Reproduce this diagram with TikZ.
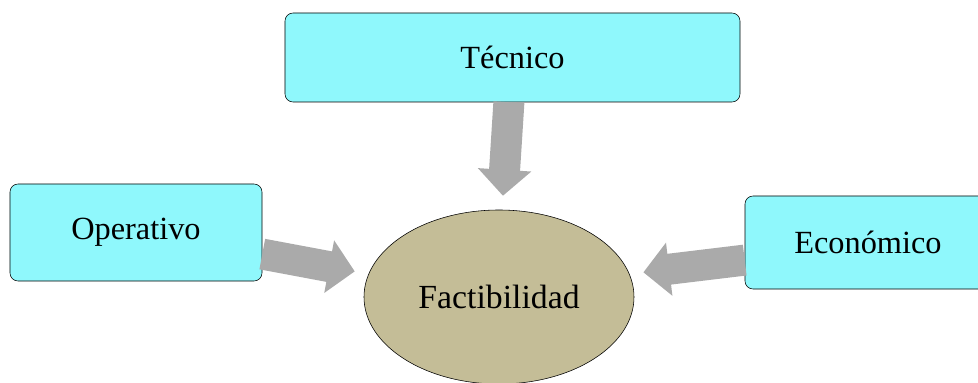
\documentclass[tikz,border=0pt]{standalone}
\usepackage{fontspec}
\setmainfont{Liberation Serif}
\usetikzlibrary{shapes.geometric,arrows.meta}
\definecolor{boxcyan}{RGB}{143,248,252}
\definecolor{coretan}{RGB}{196,189,151}
\definecolor{flowgray}{RGB}{170,170,170}
\begin{document}
\begin{tikzpicture}[x=0.25mm,y=-0.25mm,
    box/.style={draw,rounded corners=2mm,fill=boxcyan,inner sep=0pt,
        font=\fontsize{23pt}{27pt}\selectfont},
    core/.style={ellipse,draw,fill=coretan,inner sep=0pt,
        minimum width=67.5mm,minimum height=43.5mm,
        font=\fontsize{24pt}{28pt}\selectfont},
    flow/.style={draw=flowgray,line width=7.75mm,shorten >=3.5mm,
        -{Triangle[width=13mm,length=6.5mm]}}]
    \useasboundingbox (0,0) rectangle (978,383);
    %% factors
    \node[box,minimum width=113.75mm,minimum height=22.25mm] (tec) at (512.5,57.5) {Técnico};
    \node[box,minimum width=63mm,minimum height=24.25mm] (op) at (136,232.5) {Operativo};
    \node[box,minimum width=61.5mm,minimum height=23.25mm] (eco) at (868,242.5) {Económico};
    %% feasibility
    \node[core] (fact) at (499,297) {Factibilidad};
    %% arrows
    \draw[flow] ([xshift=-0.9mm]tec.south) -- (fact.88);
    \draw[flow] ([yshift=-5.4mm]op.east) -- (fact.170);
    \draw[flow] ([yshift=-4.4mm]eco.west) -- (fact.10);
\end{tikzpicture}
\end{document}
